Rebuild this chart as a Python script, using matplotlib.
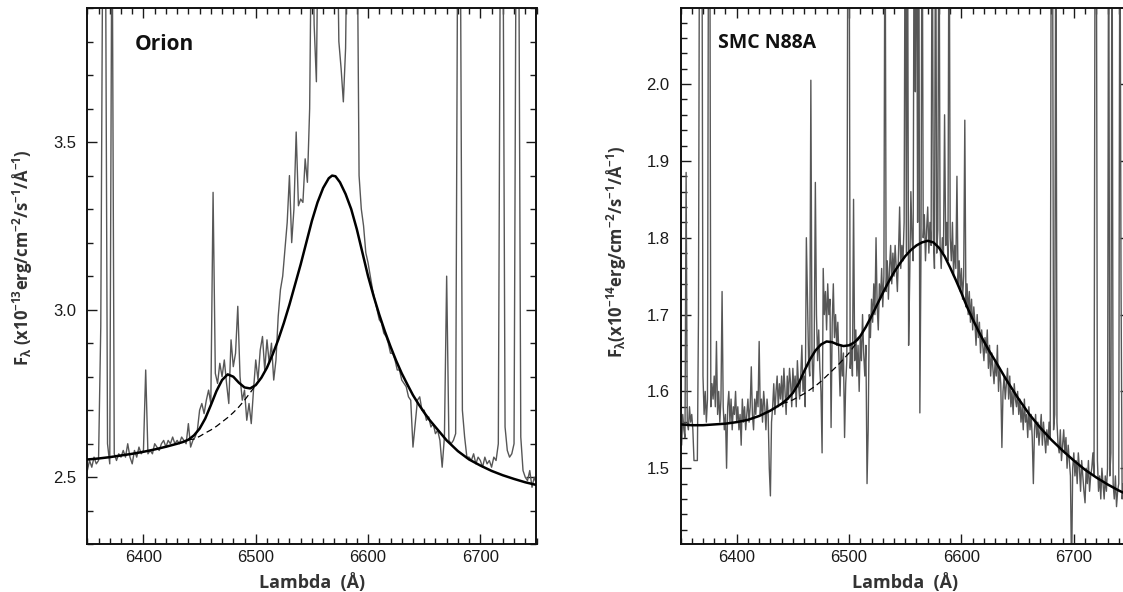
import numpy as np
import matplotlib
matplotlib.use("Agg")
import matplotlib.pyplot as plt
from matplotlib.ticker import MultipleLocator, FormatStrFormatter

plt.rcParams['font.family'] = ['Liberation Sans', 'DejaVu Sans']
plt.rcParams['mathtext.fontset'] = 'custom'
plt.rcParams['mathtext.rm'] = 'Open Sans'
plt.rcParams['mathtext.it'] = 'Open Sans:italic'
plt.rcParams['mathtext.default'] = 'regular'

# ---------------- data ----------------
# Orion spectrum, sampled every 2 A from 6350 to 6750
orion_wave = np.arange(6350, 6751, 2)
orion_flux = [
    2.52, 2.55, 2.53, 2.56, 2.54, 2.55, 2.95, 4.30, 4.30, 2.60,   # 6350
    2.54, 4.30, 2.57, 2.55, 2.57, 2.56, 2.58, 2.56, 2.60, 2.56,   # 6370
    2.54, 2.58, 2.56, 2.59, 2.57, 2.58, 2.82, 2.57, 2.58, 2.57,   # 6390
    2.60, 2.59, 2.58, 2.60, 2.61, 2.59, 2.61, 2.60, 2.62, 2.60,   # 6410
    2.61, 2.60, 2.62, 2.61, 2.60, 2.66, 2.59, 2.61, 2.62, 2.64,   # 6430
    2.70, 2.72, 2.69, 2.73, 2.76, 2.72, 3.35, 2.81, 2.78, 2.84,   # 6450
    2.80, 2.85, 2.78, 2.72, 2.91, 2.83, 2.87, 3.01, 2.80, 2.73,   # 6470
    2.76, 2.67, 2.72, 2.66, 2.76, 2.85, 2.79, 2.88, 2.92, 2.82,   # 6490
    2.91, 2.84, 2.90, 2.79, 2.85, 2.98, 3.06, 3.10, 3.18, 3.26,   # 6510
    3.40, 3.20, 3.30, 3.53, 3.31, 3.33, 3.32, 3.45, 3.38, 3.60,   # 6530
    4.30, 3.85, 3.68, 4.30, 4.30, 4.30, 4.30, 4.30, 4.30, 4.30,   # 6550
    4.30, 4.30, 3.80, 3.72, 3.62, 3.78, 4.30, 4.30, 4.30, 4.30,   # 6570
    4.30, 3.40, 3.30, 3.25, 3.17, 3.14, 3.10, 3.06, 3.03, 3.00,   # 6590
    2.97, 2.96, 2.93, 2.92, 2.90, 2.87, 2.87, 2.85, 2.82, 2.82,   # 6610
    2.79, 2.78, 2.77, 2.74, 2.73, 2.59, 2.66, 2.73, 2.74, 2.70,   # 6630
    2.70, 2.67, 2.68, 2.65, 2.66, 2.63, 2.64, 2.61, 2.53, 2.62,   # 6650
    3.10, 2.61, 2.60, 2.61, 2.63, 4.30, 4.30, 2.70, 2.62, 2.56,   # 6670
    2.56, 2.55, 2.57, 2.54, 2.56, 2.55, 2.53, 2.56, 2.54, 2.55,   # 6690
    2.53, 2.56, 2.55, 2.60, 4.30, 4.30, 2.65, 2.58, 2.56, 2.57,   # 6710
    2.60, 4.30, 4.30, 2.62, 2.52, 2.50, 2.49, 2.52, 2.47, 2.50,   # 6730
    2.48,                                                         # 6750
]

# SMC N88A spectrum, sampled every 1 A from 6350 to 6750
smc_wave = np.arange(6350, 6751, 1)
smc_flux = [
    1.56, 1.53, 1.57, 1.55, 1.54, 1.885, 1.56, 1.55, 1.58, 1.56,   # 6350
    1.57, 1.55, 1.51, 1.51, 1.51, 1.51, 1.70, 2.30, 2.30, 2.30,    # 6360
    1.62, 1.57, 1.60, 1.56, 1.59, 2.30, 2.30, 1.58, 1.61, 1.59,    # 6370
    1.62, 1.58, 1.665, 1.57, 1.60, 1.56, 1.59, 1.73, 1.58, 1.55,   # 6380
    1.57, 1.50, 1.58, 1.60, 1.56, 1.59, 1.55, 1.58, 1.57, 1.60,    # 6390
    1.56, 1.58, 1.55, 1.57, 1.53, 1.59, 1.56, 1.58, 1.55, 1.57,    # 6400
    1.59, 1.56, 1.58, 1.632, 1.57, 1.55, 1.59, 1.57, 1.60, 1.58,   # 6410
    1.665, 1.57, 1.59, 1.56, 1.60, 1.58, 1.55, 1.59, 1.57, 1.50,   # 6420
    1.464, 1.56, 1.58, 1.61, 1.57, 1.60, 1.62, 1.58, 1.61, 1.59,   # 6430
    1.62, 1.58, 1.63, 1.60, 1.57, 1.62, 1.59, 1.63, 1.61, 1.58,    # 6440
    1.63, 1.60, 1.62, 1.58, 1.64, 1.61, 1.59, 1.62, 1.66, 1.60,    # 6450
    1.62, 1.58, 1.80, 1.72, 1.64, 1.62, 2.005, 1.65, 1.60, 1.66,   # 6460
    1.872, 1.70, 1.64, 1.68, 1.63, 1.60, 1.52, 1.76, 1.70, 1.73,   # 6470
    1.68, 1.74, 1.70, 1.72, 1.553, 1.69, 1.74, 1.67, 1.70, 1.66,   # 6480
    1.69, 1.64, 1.594, 1.66, 1.62, 1.65, 1.54, 1.61, 1.64, 2.30,   # 6490
    2.30, 1.63, 1.66, 1.62, 1.85, 1.64, 1.68, 1.62, 1.66, 1.60,    # 6500
    1.67, 1.64, 1.70, 1.65, 1.62, 1.66, 1.48, 1.55, 1.70, 1.67,    # 6510
    1.72, 1.69, 1.74, 1.70, 1.80, 1.71, 1.68, 1.74, 1.72, 1.76,    # 6520
    1.71, 1.75, 2.30, 1.73, 1.77, 1.72, 1.76, 1.79, 1.74, 1.78,    # 6530
    1.75, 1.79, 1.76, 1.73, 1.78, 1.84, 1.76, 1.79, 1.77, 1.82,    # 6540
    2.30, 1.78, 2.30, 1.66, 1.75, 1.86, 1.80, 1.77, 2.30, 1.99,    # 6550
    2.30, 1.82, 2.30, 1.572, 1.78, 2.30, 1.80, 1.83, 1.77, 1.81,   # 6560
    1.84, 1.78, 1.82, 1.79, 2.30, 1.80, 1.76, 2.30, 1.78, 1.81,    # 6570
    2.30, 1.79, 1.76, 1.80, 1.78, 1.96, 1.79, 1.82, 1.77, 2.30,    # 6580
    1.80, 1.77, 1.82, 1.75, 1.79, 1.76, 1.88, 1.74, 1.77, 1.73,    # 6590
    1.76, 1.72, 1.75, 1.953, 1.71, 1.74, 1.70, 1.73, 1.69, 1.72,   # 6600
    1.68, 1.71, 1.69, 1.66, 1.70, 1.67, 1.69, 1.65, 1.68, 1.66,    # 6610
    1.64, 1.67, 1.65, 1.68, 1.63, 1.66, 1.62, 1.65, 1.63, 1.61,    # 6620
    1.64, 1.62, 1.66, 1.60, 1.63, 1.61, 1.527, 1.60, 1.62, 1.59,   # 6630
    1.61, 1.63, 1.59, 1.62, 1.58, 1.60, 1.57, 1.61, 1.59, 1.58,    # 6640
    1.60, 1.57, 1.59, 1.56, 1.58, 1.55, 1.59, 1.56, 1.57, 1.54,    # 6650
    1.58, 1.55, 1.57, 1.54, 1.48, 1.55, 1.57, 1.54, 1.56, 1.53,    # 6660
    1.55, 1.57, 1.53, 1.56, 1.54, 1.52, 1.55, 1.53, 1.56, 1.54,    # 6670
    2.30, 2.30, 1.55, 1.57, 2.30, 1.56, 1.53, 1.52, 1.55, 1.51,    # 6680
    1.53, 1.55, 1.52, 1.54, 1.50, 1.53, 1.51, 1.49, 1.36, 1.50,    # 6690
    1.52, 1.49, 1.51, 1.48, 1.52, 1.50, 1.47, 1.51, 1.49, 1.47,    # 6700
    1.455, 1.50, 1.48, 1.51, 1.47, 1.49, 1.50, 1.52, 1.49, 2.30,   # 6710
    2.30, 1.51, 1.47, 1.49, 1.46, 1.50, 1.48, 1.46, 1.49, 1.47,    # 6720
    1.50, 2.30, 1.49, 1.52, 2.30, 1.48, 1.46, 1.49, 1.45, 1.47,    # 6730
    1.48, 2.30, 1.75, 1.46, 1.48, 1.45, 1.47, 1.44, 1.46, 1.45,    # 6740
    1.46,                                                          # 6750
]

# fitted model (solid) and model without the 6480 A component (dashed)
orion_fit_wave = [6350, 6360, 6370, 6380, 6390, 6400, 6410, 6420, 6430, 6435,
                  6440, 6445, 6450, 6455, 6460, 6465, 6470, 6475, 6480, 6485,
                  6490, 6495, 6500, 6505, 6510, 6515, 6520, 6525, 6530, 6535,
                  6540, 6545, 6550, 6555, 6560, 6565, 6568, 6571, 6575, 6580,
                  6585, 6590, 6595, 6600, 6605, 6610, 6615, 6620, 6625, 6630,
                  6635, 6640, 6645, 6650, 6655, 6660, 6670, 6680, 6690, 6700,
                  6710, 6720, 6730, 6740, 6750]
orion_fit = [2.553, 2.556, 2.560, 2.565, 2.570, 2.576, 2.583, 2.591, 2.600, 2.605,
             2.612, 2.625, 2.645, 2.675, 2.715, 2.757, 2.790, 2.807, 2.800, 2.782,
             2.768, 2.765, 2.775, 2.797, 2.827, 2.866, 2.910, 2.960, 3.015, 3.075,
             3.135, 3.200, 3.265, 3.320, 3.363, 3.392, 3.400, 3.398, 3.380, 3.345,
             3.300, 3.240, 3.170, 3.100, 3.040, 2.985, 2.935, 2.890, 2.848, 2.810,
             2.777, 2.745, 2.718, 2.693, 2.670, 2.650, 2.610, 2.578, 2.553, 2.535,
             2.519, 2.506, 2.495, 2.485, 2.477]
orion_base_wave = [6440, 6445, 6450, 6455, 6460, 6465, 6470, 6475, 6480, 6485,
                   6490, 6495, 6500, 6505]
orion_base = [2.612, 2.614, 2.622, 2.632, 2.641, 2.652, 2.665, 2.678, 2.693, 2.710,
              2.730, 2.752, 2.775, 2.797]

smc_fit_wave = [6350, 6360, 6370, 6380, 6390, 6400, 6410, 6420, 6430, 6440,
                6445, 6450, 6455, 6460, 6465, 6470, 6475, 6480, 6485, 6490,
                6495, 6500, 6505, 6510, 6515, 6520, 6525, 6530, 6535, 6540,
                6545, 6550, 6555, 6560, 6565, 6570, 6575, 6580, 6585, 6590,
                6595, 6600, 6605, 6610, 6615, 6620, 6625, 6630, 6640, 6650,
                6660, 6670, 6680, 6690, 6700, 6710, 6720, 6730, 6740, 6750]
smc_fit = [1.557, 1.556, 1.556, 1.557, 1.558, 1.560, 1.563, 1.568, 1.575, 1.584,
           1.590, 1.598, 1.610, 1.626, 1.641, 1.653, 1.661, 1.665, 1.664, 1.661,
           1.659, 1.660, 1.664, 1.672, 1.684, 1.698, 1.713, 1.728, 1.742, 1.755,
           1.766, 1.776, 1.784, 1.790, 1.794, 1.796, 1.794, 1.787, 1.776, 1.761,
           1.745, 1.728, 1.710, 1.694, 1.679, 1.665, 1.652, 1.640, 1.615, 1.592,
           1.571, 1.553, 1.537, 1.523, 1.510, 1.498, 1.488, 1.479, 1.471, 1.464]
smc_base_wave = [6440, 6445, 6450, 6455, 6460, 6465, 6470, 6475, 6480, 6485,
                 6490, 6495, 6500, 6505, 6510]
smc_base = [1.584, 1.586, 1.589, 1.593, 1.597, 1.602, 1.607, 1.613, 1.620, 1.627,
            1.634, 1.642, 1.650, 1.660, 1.672]

panels = [
    dict(name="Orion", wave=orion_wave, flux=orion_flux, fw=orion_fit_wave, fit=orion_fit,
         bw=orion_base_wave, base=orion_base, ylim=(2.3, 3.9),
         major=0.5, minor=0.1,
         ylabel=r"F$_{\lambda}$ (x10$^{-13}$erg/cm$^{-2}$/s$^{-1}$/Å$^{-1}$)"),
    dict(name="SMC N88A", wave=smc_wave, flux=smc_flux, fw=smc_fit_wave, fit=smc_fit,
         bw=smc_base_wave, base=smc_base, ylim=(1.401, 2.099),
         major=0.1, minor=0.02,
         ylabel=r"F$_{\lambda}$(x10$^{-14}$erg/cm$^{-2}$/s$^{-1}$/Å$^{-1}$)"),
]

# ---------------- figure ----------------
W, H = 1123, 592
fig = plt.figure(figsize=(W / 100, H / 100), dpi=100)

ax_boxes = [(87.3, 536.5), (680.5, 1130.0)]
top_px, bot_px = 8.0, 544.3
label_pos = [(23, 258), (617, 252)]
title_pos = [(135, 44), (718, 43)]
title_size = [15, 14]

for p, (x0, x1), (lx, ly), (tx, ty), ts in zip(panels, ax_boxes, label_pos, title_pos, title_size):
    ax = fig.add_axes([x0 / W, 1 - bot_px / H, (x1 - x0) / W, (bot_px - top_px) / H])
    ax.plot(p["wave"], p["flux"], color="#575757", lw=1.0, zorder=2)
    ax.plot(p["bw"], p["base"], color="black", lw=0.9, ls=(0, (5, 3)), zorder=3)
    ax.plot(p["fw"], p["fit"], color="black", lw=1.8, zorder=4)

    ax.set_xlim(6350, 6750)
    ax.set_ylim(*p["ylim"])
    ax.xaxis.set_major_locator(MultipleLocator(100))
    ax.xaxis.set_minor_locator(MultipleLocator(10))
    ax.yaxis.set_major_locator(MultipleLocator(p["major"]))
    ax.yaxis.set_minor_locator(MultipleLocator(p["minor"]))
    ax.yaxis.set_major_formatter(FormatStrFormatter("%.1f"))
    ax.tick_params(which="both", direction="in", top=True, right=True,
                   labelsize=12, colors="#1a1a1a", width=1.0)
    ax.tick_params(which="major", length=7.5)
    ax.tick_params(which="minor", length=4)
    ax.tick_params(axis="x", pad=4)
    ax.tick_params(axis="y", pad=8)
    for s in ax.spines.values():
        s.set_linewidth(1.4)
        s.set_color("#111111")

    ax.set_xlabel("Lambda  (Å)", fontfamily="Open Sans", fontweight="bold",
                  fontsize=13, color="#333333", labelpad=6)
    fig.text(lx / W, 1 - ly / H, p["ylabel"], rotation=90, ha="center", va="center",
             fontfamily="Open Sans", fontweight="bold", fontsize=12, color="#333333")
    fig.text(tx / W, 1 - ty / H, p["name"], ha="left", va="center",
             fontfamily="Open Sans", fontweight="bold", fontsize=ts, color="#111111")

fig.savefig("out.png", dpi=100)
